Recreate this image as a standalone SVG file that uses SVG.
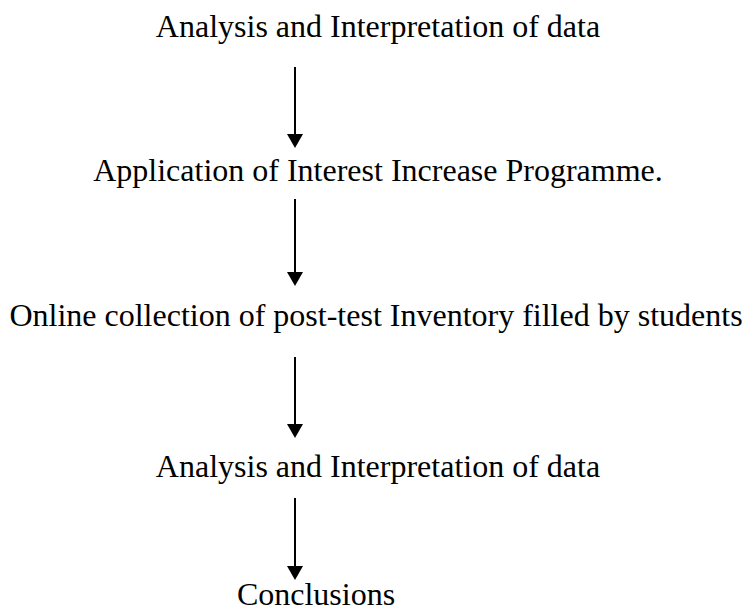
<svg xmlns="http://www.w3.org/2000/svg" width="745" height="612" viewBox="0 0 745 612">
<defs>
<style>
text{font-family:"Liberation Serif","Times New Roman",serif;font-size:32px;fill:#000;text-anchor:middle;}
.c{stroke:#000;stroke-width:2;fill:none;}
</style>
<marker id="ah" markerWidth="14" markerHeight="16" refX="0" refY="8" orient="auto" markerUnits="userSpaceOnUse" viewBox="0 0 14 16">
<path d="M0,0 L14,8 L0,16 Z" fill="#000"/>
</marker>
</defs>
<rect width="745" height="612" fill="#fff"/>
<g id="n1"><text x="378" y="37">Analysis and Interpretation of data</text></g>
<g id="n2"><text x="378" y="181">Application of Interest Increase Programme.</text></g>
<g id="n3"><text x="376" y="326">Online collection of post-test Inventory filled by students</text></g>
<g id="n4"><text x="378" y="477">Analysis and Interpretation of data</text></g>
<g id="n5"><text x="316" y="605">Conclusions</text></g>
<g id="connectors">
<line class="c" x1="295" y1="67" x2="295" y2="134" marker-end="url(#ah)"/>
<line class="c" x1="295" y1="199" x2="295" y2="272" marker-end="url(#ah)"/>
<line class="c" x1="295" y1="357" x2="295" y2="424" marker-end="url(#ah)"/>
<line class="c" x1="295" y1="498" x2="295" y2="566" marker-end="url(#ah)"/>
</g>
</svg>
